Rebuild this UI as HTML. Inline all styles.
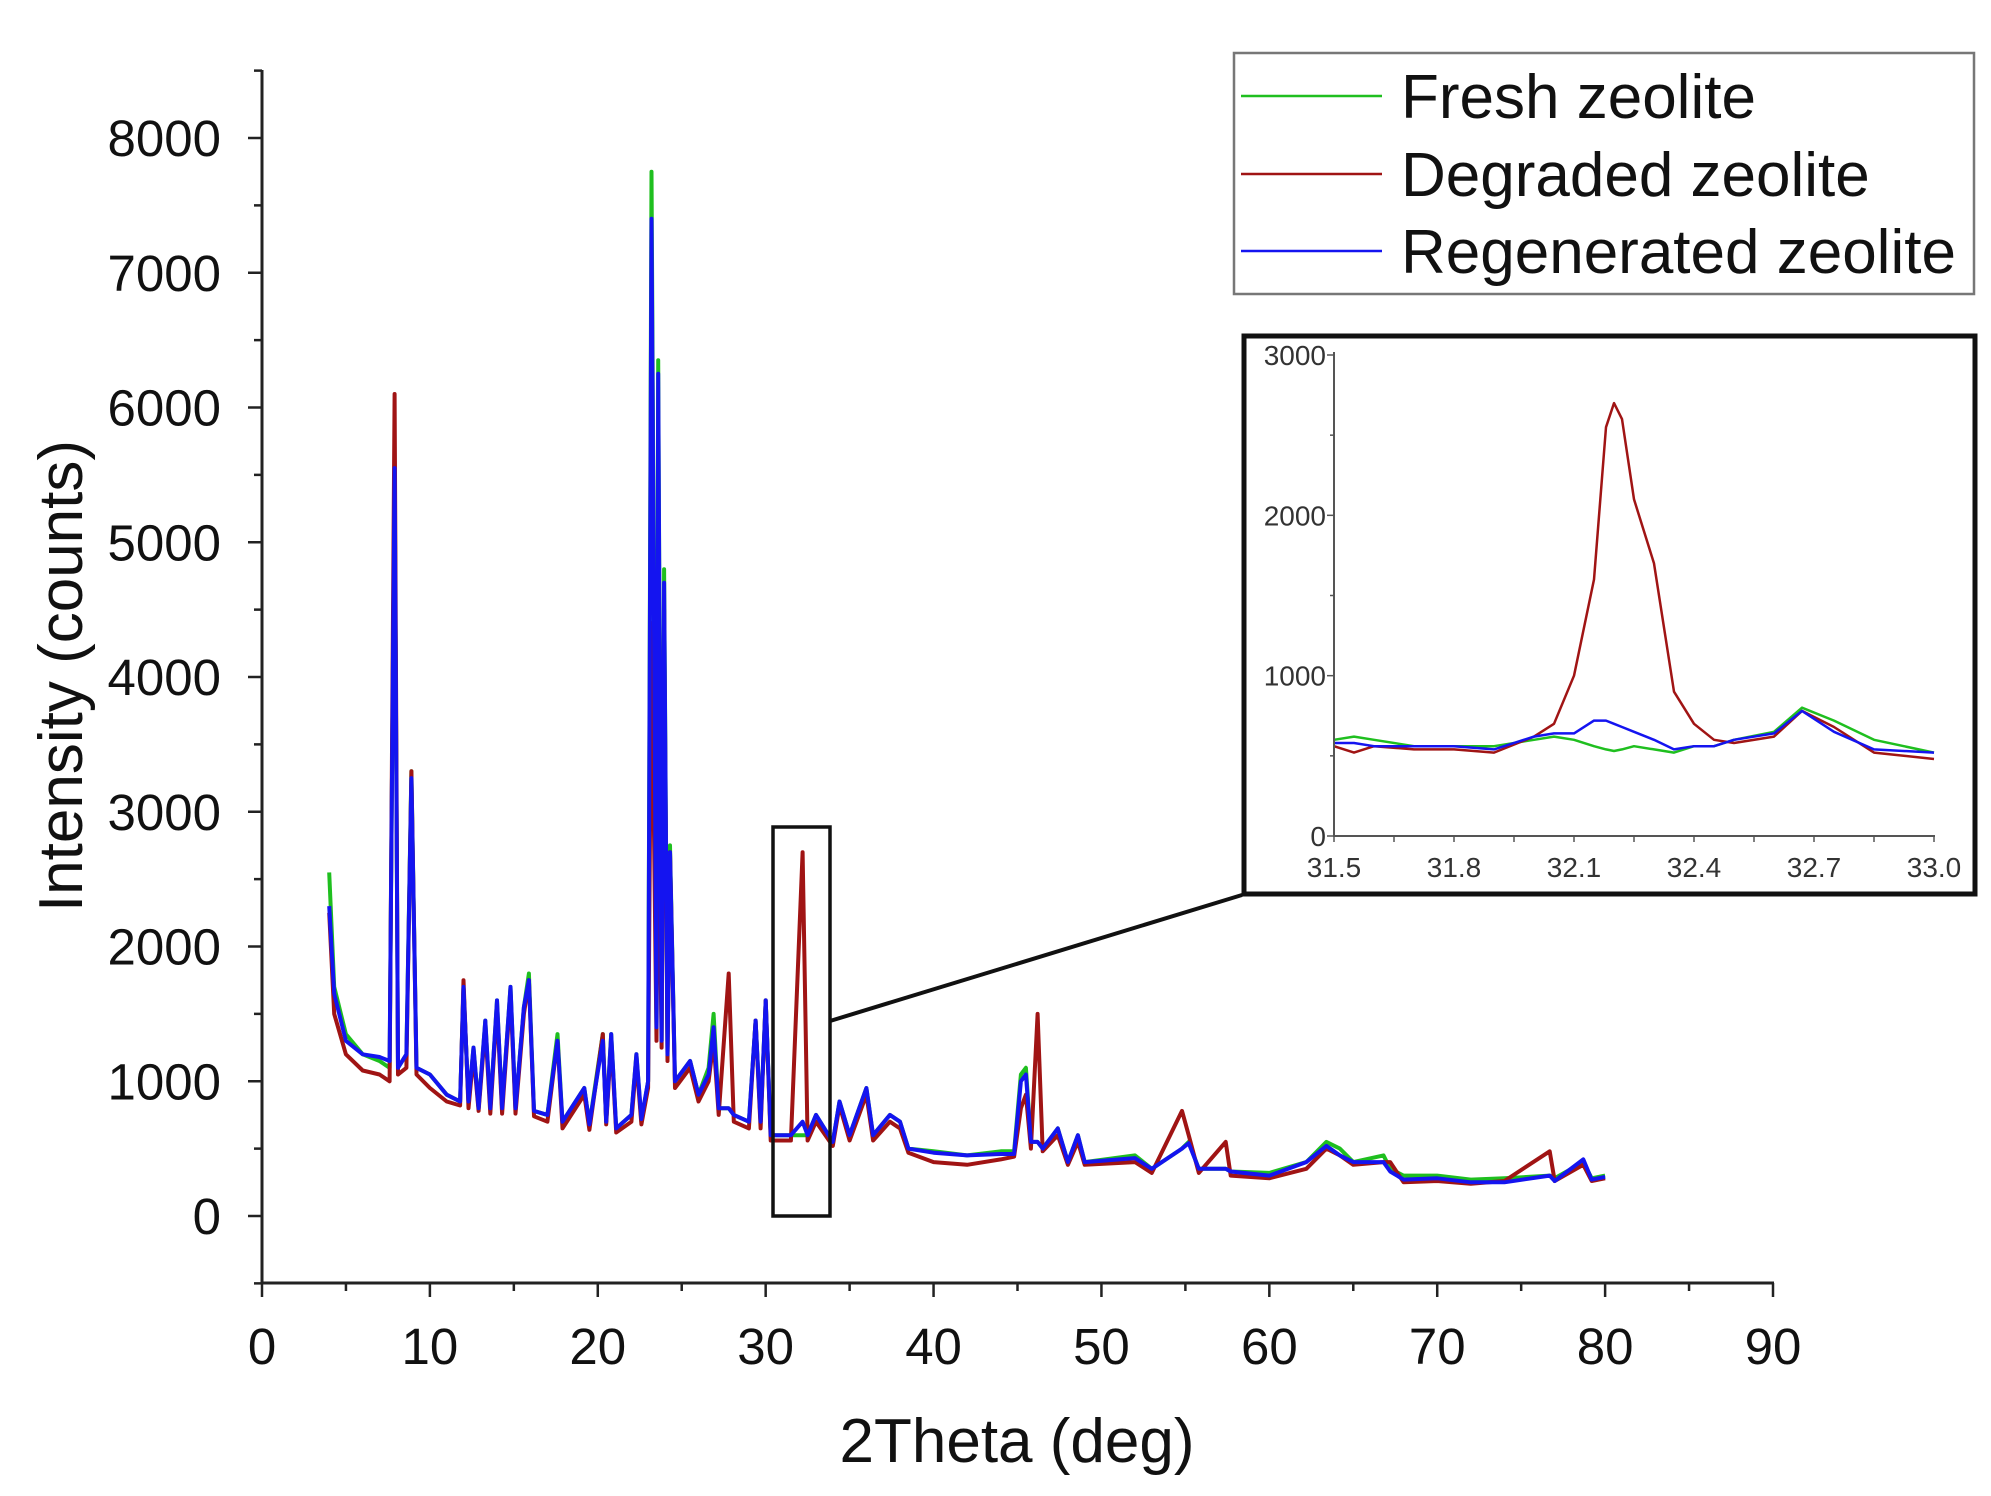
<!DOCTYPE html>
<html><head><meta charset="utf-8"><style>
html,body{margin:0;padding:0;background:#fff}
svg{display:block;font-family:"Liberation Sans",Arial,sans-serif}
</style></head><body>
<svg id="chart" width="1991" height="1496" viewBox="0 0 1991 1496" xmlns="http://www.w3.org/2000/svg">
<rect width="1991" height="1496" fill="#fff"/>
<g id="main"></g>
<g id="inset"></g>
<g id="legend"></g>
</svg>
<script>
const xs = [4.0,4.3,5,6,7,7.6,7.9,8.1,8.6,8.9,9.2,10,11,11.8,12,12.3,12.6,12.9,13.3,13.6,14,14.3,14.8,15.1,15.6,15.9,16.2,17,17.6,17.9,19.2,19.5,20.3,20.5,20.8,21.1,22,22.3,22.6,23.0,23.2,23.5,23.6,23.8,23.95,24.15,24.3,24.6,25.5,26,26.6,26.9,27.2,27.8,28.1,29,29.4,29.7,30,30.3,31.5,32.2,32.5,33,34,34.4,35,36,36.4,37.4,38,38.5,40,42,44,44.8,45.2,45.5,45.8,46.2,46.5,47.4,48,48.6,49,52,53,54.8,55.2,55.8,57.4,57.7,60,62.2,63.4,64.2,65,66.8,67.2,68,70,72,74,76.7,77,78.7,79.2,80];
const fresh = [2550,1700,1350,1200,1150,1100,5600,1100,1200,3300,1100,1050,900,850,1700,850,1250,800,1450,800,1600,800,1700,800,1550,1800,780,750,1350,700,950,680,1350,700,1350,650,750,1200,700,1000,7750,1400,6350,1300,4800,1200,2750,1000,1150,900,1100,1500,800,800,750,700,1450,700,1600,600,600,600,600,750,550,850,600,950,600,750,700,500,480,450,480,480,1050,1100,550,550,500,650,400,600,400,450,350,500,550,350,350,330,320,400,550,500,400,450,350,300,300,270,280,300,280,400,280,300];
const degraded = [2250,1500,1200,1080,1050,1000,6100,1050,1100,3300,1050,950,850,820,1750,800,1200,780,1400,760,1550,760,1650,760,1500,1750,740,700,1300,650,900,640,1350,680,1300,620,700,1150,680,950,4400,1300,3400,1250,4500,1150,2700,950,1100,850,1000,1300,750,1800,700,650,1450,650,1600,560,560,2700,560,700,520,820,560,900,560,700,650,470,400,380,420,440,800,900,500,1500,480,600,380,550,380,400,320,780,600,320,550,300,280,350,500,450,380,400,400,250,260,240,260,480,260,380,260,280];
const regen = [2300,1650,1300,1200,1180,1150,5550,1100,1200,3250,1100,1050,900,850,1700,850,1250,800,1450,800,1600,800,1700,800,1550,1750,780,750,1300,700,950,680,1300,700,1350,650,750,1200,720,1000,7400,1400,6250,1300,4700,1200,2700,1000,1150,900,1050,1400,800,800,750,700,1450,700,1600,600,600,700,600,750,550,850,600,950,600,750,700,500,470,450,460,460,1000,1050,550,550,500,650,400,600,400,430,350,500,540,350,350,330,300,400,520,450,400,400,330,270,280,250,250,300,260,420,270,290];
const xTicks = [0,10,20,30,40,50,60,70,80,90];
const yTicks = [0,1000,2000,3000,4000,5000,6000,7000,8000];
const insetX = [31.5,31.55,31.6,31.7,31.8,31.9,32.0,32.05,32.1,32.15,32.18,32.2,32.22,32.25,32.3,32.35,32.4,32.45,32.5,32.6,32.67,32.75,32.85,33.0];
const insetDegraded = [560,520,560,540,540,520,620,700,1000,1600,2550,2700,2600,2100,1700,900,700,600,580,620,780,680,520,480];
const insetFresh = [600,620,600,560,560,560,600,620,600,560,540,530,540,560,540,520,560,560,600,650,800,720,600,520];
const insetRegen = [580,580,560,560,560,540,620,640,640,720,720,700,680,650,600,540,560,560,600,640,780,650,540,520];
const insetXTicks = [31.5,31.8,32.1,32.4,32.7,33.0];
const insetYTicks = [0,1000,2000,3000];

const NS="http://www.w3.org/2000/svg";
function mk(parent,tag,attrs,text){const e=document.createElementNS(NS,tag);for(const k in attrs)e.setAttribute(k,attrs[k]);if(text!==undefined)e.textContent=text;parent.appendChild(e);return e;}
const C={g:"#1fbf1f",r:"#a01414",b:"#1414f0"};

const X=v=>262+(v-0)/90*(1773-262);
const Y=v=>1216-(v-0)/8000*(1216-138);
const main=document.getElementById('main');
function series(g,xa,ya,fx,fy,col,name,w){
  const p=mk(g,'path',{d:xa.map((x,i)=>(i?'L':'M')+fx(x).toFixed(1)+','+fy(ya[i]).toFixed(1)).join(''),fill:'none',stroke:col,'stroke-width':w,'stroke-linejoin':'round'});
  
  
}
series(main,xs,fresh,X,Y,C.g,'fresh-zeolite-line',4);
series(main,xs,degraded,X,Y,C.r,'degraded-zeolite-line',4);
series(main,xs,regen,X,Y,C.b,'regenerated-zeolite-line',4);
let ax=mk(main,'line',{x1:262,y1:70,x2:262,y2:1284,stroke:'#222','stroke-width':3});

ax=mk(main,'line',{x1:261,y1:1283,x2:1774,y2:1283,stroke:'#222','stroke-width':3});

for(let v=-500;v<=8500;v+=500){const y=Y(v);const maj=v%1000===0;mk(main,'line',{x1:262-(maj?14:8),y1:y,x2:262,y2:y,stroke:'#222','stroke-width':2.5});}
yTicks.forEach(v=>{const t=mk(main,'text',{x:221,y:Y(v)+18,'text-anchor':'end','font-size':51,fill:'#111'},String(v));});
for(let v=0;v<=90;v+=5){const x=X(v);const maj=v%10===0;mk(main,'line',{x1:x,y1:1283,x2:x,y2:1283+(maj?14:8),stroke:'#222','stroke-width':2.5});}
xTicks.forEach(v=>{const t=mk(main,'text',{x:X(v),y:1364,'text-anchor':'middle','font-size':51,fill:'#111'},String(v));});
let t=mk(main,'text',{x:1017,y:1462,'text-anchor':'middle','font-size':62,fill:'#111'},'2Theta (deg)');

t=mk(main,'text',{x:0,y:0,'text-anchor':'middle','font-size':62,fill:'#111',transform:'translate(82,676) rotate(-90)'},'Intensity (counts)');

let r=mk(main,'rect',{x:773,y:827,width:57,height:389,fill:'none',stroke:'#111','stroke-width':3.5});

r=mk(main,'line',{x1:830,y1:1021,x2:1242,y2:895,stroke:'#111','stroke-width':4});


const inset=document.getElementById('inset');
r=mk(inset,'rect',{x:1244,y:336,width:731,height:558,fill:'#fff',stroke:'#111','stroke-width':5});

const IX=v=>1334+(v-31.5)/1.5*(1934-1334);
const IY=v=>836-v/3000*(836-355);
series(inset,insetX,insetFresh,IX,IY,C.g,'inset-fresh-line',2.5);
series(inset,insetX,insetDegraded,IX,IY,C.r,'inset-degraded-line',2.5);
series(inset,insetX,insetRegen,IX,IY,C.b,'inset-regenerated-line',2.5);
mk(inset,'line',{x1:1334,y1:352,x2:1334,y2:837,stroke:'#555','stroke-width':2});
mk(inset,'line',{x1:1333,y1:836,x2:1935,y2:836,stroke:'#555','stroke-width':2});
for(let v=0;v<=3000;v+=500){mk(inset,'line',{x1:1334-(v%1000===0?7:4),y1:IY(v),x2:1334,y2:IY(v),stroke:'#555','stroke-width':1.5});}
for(let v=31.5;v<=33.001;v+=0.15){mk(inset,'line',{x1:IX(v),y1:836,x2:IX(v),y2:842,stroke:'#555','stroke-width':1.5});}
insetYTicks.forEach(v=>{const e=mk(inset,'text',{x:1326,y:IY(v)+10,'text-anchor':'end','font-size':28,fill:'#333'},String(v));});
insetXTicks.forEach(v=>{const e=mk(inset,'text',{x:IX(v),y:877,'text-anchor':'middle','font-size':28,fill:'#333'},v.toFixed(1));});

const lg=document.getElementById('legend');
r=mk(lg,'rect',{x:1234,y:53,width:740,height:241,fill:'#fff',stroke:'#777','stroke-width':2.5});

[['Fresh zeolite',C.g,96],['Degraded zeolite',C.r,174],['Regenerated zeolite',C.b,251]].forEach(([n,c,y])=>{
  const l=mk(lg,'line',{x1:1241,y1:y,x2:1382,y2:y,stroke:c,'stroke-width':2.5});
  
  const e=mk(lg,'text',{x:1401,y:y+22,'font-size':62,fill:'#111'},n);
  
});
</script>
</body></html>
